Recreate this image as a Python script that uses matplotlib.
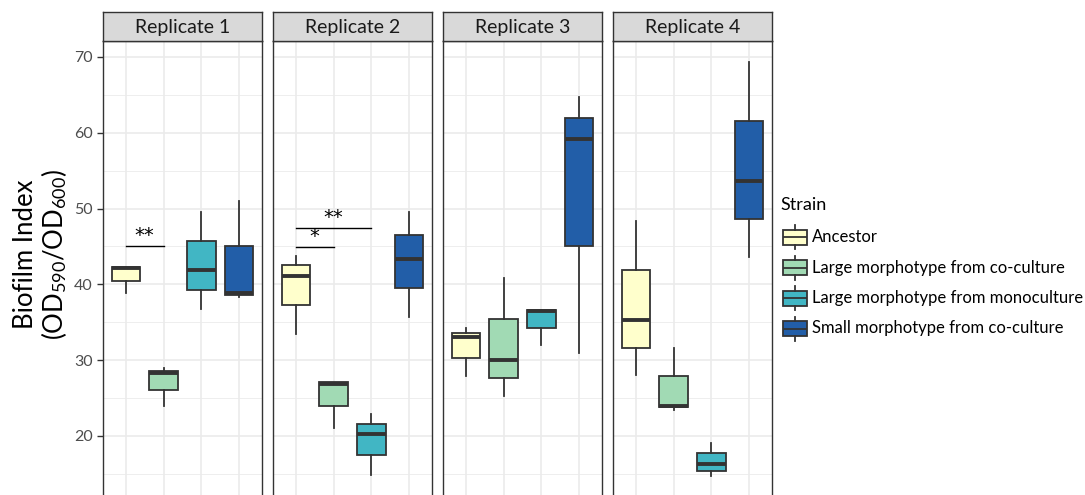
import numpy as np
import matplotlib
matplotlib.use('Agg')
import matplotlib.pyplot as plt

plt.rcParams['font.family'] = ['Lato', 'DejaVu Sans']
plt.rcParams['mathtext.fontset'] = 'custom'
plt.rcParams['mathtext.rm'] = 'Lato'
plt.rcParams['mathtext.it'] = 'Lato:italic'

# data (whisker low, q1, median, q3, whisker high)
replicates = ['Replicate 1', 'Replicate 2', 'Replicate 3', 'Replicate 4']
strains = ['Ancestor', 'Large morphotype from co-culture',
           'Large morphotype from monoculture', 'Small morphotype from co-culture']
colors = ['#FFFFCC', '#A1DAB4', '#41B6C4', '#225EA8']

rep1 = [[38.9, 40.5, 42.2, 42.3, 42.3],
        [23.9, 26.1, 28.3, 28.6, 28.9],
        [36.7, 39.3, 41.9, 45.7, 49.5],
        [38.3, 38.6, 38.9, 45.0, 51.0]]
rep2 = [[33.5, 37.3, 41.1, 42.5, 43.7],
        [21.1, 24.0, 26.9, 27.1, 27.1],
        [14.9, 17.5, 20.3, 21.6, 22.9],
        [35.7, 39.5, 43.3, 46.5, 49.6]]
rep3 = [[27.9, 30.3, 33.0, 33.6, 34.3],
        [25.3, 27.6, 30.0, 35.4, 40.8],
        [32.0, 34.2, 36.45, 36.6, 36.6],
        [30.9, 45.0, 59.2, 61.95, 64.7]]
rep4 = [[28.1, 31.65, 35.3, 41.9, 48.4],
        [23.4, 23.8, 24.0, 27.9, 31.65],
        [14.7, 15.4, 16.3, 17.7, 19.1],
        [43.65, 48.6, 53.6, 61.5, 69.3]]
all_reps = [rep1, rep2, rep3, rep4]

# significance bars: panel, from, to, height, label
sig_bars = [(0, 1, 2, 45.1, '**'),
            (1, 1, 2, 44.9, '*'),
            (1, 1, 3, 47.4, '**')]

W, H = 1085, 495
fig = plt.figure(figsize=(W / 100, H / 100), dpi=100)

ylo, yhi = 11.56, 72.1
edge = '#333333'
grid_c = '#EBEBEB'

axes = []
for i, rep in enumerate(all_reps):
    left = (103 + 170 * i) / W
    ax = fig.add_axes([left, -0.01, 159 / W, 0.9172 + 0.01])
    axes.append(ax)
    ax.set_xlim(0.4, 4.6)
    ax.set_ylim(ylo, yhi)
    for y in np.arange(15, 75, 10):
        ax.axhline(y, color=grid_c, lw=0.6, zorder=0)
    for y in np.arange(20, 75, 10):
        ax.axhline(y, color=grid_c, lw=1.2, zorder=0)
    for x in range(1, 5):
        ax.axvline(x, color=grid_c, lw=1.2, zorder=0)

    stats = []
    for s in rep:
        stats.append(dict(whislo=s[0], q1=s[1], med=s[2], q3=s[3], whishi=s[4], fliers=[]))
    bp = ax.bxp(stats, positions=[1, 2, 3, 4], widths=0.75, patch_artist=True,
                showcaps=False, showfliers=False,
                boxprops=dict(edgecolor=edge, linewidth=1.3),
                medianprops=dict(color=edge, linewidth=2.8, solid_capstyle='butt'),
                whiskerprops=dict(color=edge, linewidth=1.3))
    for patch, c in zip(bp['boxes'], colors):
        patch.set_facecolor(c)
    for sp in ax.spines.values():
        sp.set_color(edge)
        sp.set_linewidth(1.0)
    ax.spines['bottom'].set_visible(False)
    ax.set_xticks([])
    if i == 0:
        ax.set_yticks([20, 30, 40, 50, 60, 70])
        ax.tick_params(axis='y', colors=edge, labelcolor='#4D4D4D', labelsize=11.5, length=4, width=1)
    else:
        ax.set_yticks([])

    # strip
    sax = fig.add_axes([left, 0.9172, 159 / W, 29 / H])
    sax.set_facecolor('#D9D9D9')
    sax.set_xticks([])
    sax.set_yticks([])
    for sp in sax.spines.values():
        sp.set_color(edge)
        sp.set_linewidth(1.0)
    sax.text(0.5, 0.45, replicates[i], ha='center', va='center', fontsize=14, color='#1A1A1A',
             transform=sax.transAxes)

for p, a, b, h, lab in sig_bars:
    ax = axes[p]
    ax.plot([a, b], [h, h], color='black', lw=1.0, zorder=3)
    ax.text((a + b) / 2, h + 0.1, lab, ha='center', va='bottom', fontsize=14, color='black',
            family='DejaVu Sans')

fig.text(41 / W, 1 - 254 / H, 'Biofilm Index\n(OD$_{590}$/OD$_{600}$)', rotation=90,
         ha='center', va='center', multialignment='center', fontsize=18.5, linespacing=1.05)

# legend
fig.text(780 / W, 1 - 205 / H, 'Strain', ha='left', va='center', fontsize=13)
lax = fig.add_axes([781 / W, 1 - 344 / H, 28 / W, 122 / H])
lax.set_xlim(0, 1)
lax.set_ylim(0, 4)
lax.axis('off')
kstats = []
for k in range(4):
    c = 3.5 - k
    kstats.append(dict(whislo=c - 0.4, q1=c - 0.25, med=c, q3=c + 0.25, whishi=c + 0.4, fliers=[]))
kb = lax.bxp(kstats, positions=[0.5] * 4, widths=0.85, patch_artist=True,
             showcaps=False, showfliers=False, manage_ticks=False,
             boxprops=dict(edgecolor=edge, linewidth=1.3),
             medianprops=dict(color=edge, linewidth=1.3),
             whiskerprops=dict(color=edge, linewidth=1.3))
for patch, c in zip(kb['boxes'], colors):
    patch.set_facecolor(c)
for k, name in enumerate(strains):
    fig.text(812 / W, 1 - (237 + 30.5 * k) / H, name, ha='left', va='center', fontsize=12)

fig.savefig('out.png', dpi=100)
